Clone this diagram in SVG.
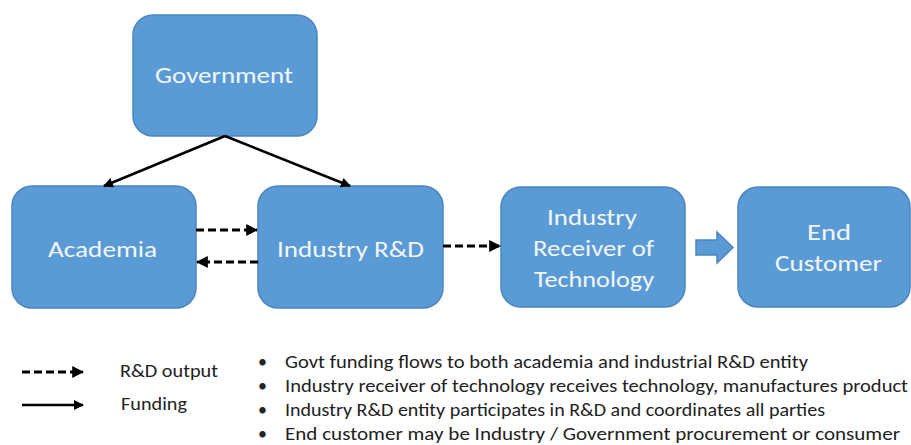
<svg xmlns="http://www.w3.org/2000/svg" width="911" height="445" viewBox="0 0 911 445">
<style>
.box{fill:#5b9bd5;stroke:#4a86c0;stroke-width:1.5}
.lbl{font-family:Carlito,Lato,"Open Sans",sans-serif;font-size:23px;fill:#f2f6fb;text-anchor:middle}
.solid{stroke:#000;stroke-width:2.5;fill:none}
.dash{stroke:#000;stroke-width:3;fill:none;stroke-dasharray:8 4}
.leg{font-family:Carlito,Lato,"Open Sans",sans-serif;font-size:18px;fill:#222}
</style>
<defs>
<marker id="ah" viewBox="0 0 10 10" refX="9" refY="5" markerWidth="4" markerHeight="4" orient="auto" markerUnits="strokeWidth">
<path d="M0,0 L10,5 L0,10 z" fill="#000"/>
</marker>
</defs>
<rect width="911" height="445" fill="#fff"/>
<g id="government"><rect class="box" x="133" y="15" width="184" height="121" rx="20"/><text class="lbl" x="224" y="83" textLength="138" lengthAdjust="spacingAndGlyphs">Government</text></g>
<g id="academia"><rect class="box" x="12" y="186" width="184" height="122" rx="20"/><text class="lbl" x="102.5" y="257" textLength="109" lengthAdjust="spacingAndGlyphs">Academia</text></g>
<g id="industry-rd"><rect class="box" x="258" y="186" width="185" height="122" rx="20"/><text class="lbl" x="350.5" y="257" textLength="147" lengthAdjust="spacingAndGlyphs">Industry R&amp;D</text></g>
<g id="industry-receiver"><rect class="box" x="501" y="187" width="184" height="120" rx="20"/><text class="lbl" x="592" y="225" textLength="90" lengthAdjust="spacingAndGlyphs">Industry</text><text class="lbl" x="593.5" y="256" textLength="121" lengthAdjust="spacingAndGlyphs">Receiver of</text><text class="lbl" x="594" y="287" textLength="120" lengthAdjust="spacingAndGlyphs">Technology</text></g>
<g id="end-customer"><rect class="box" x="738" y="187" width="172" height="120" rx="20"/><text class="lbl" x="829" y="240" textLength="44" lengthAdjust="spacingAndGlyphs">End</text><text class="lbl" x="828.5" y="271" textLength="107" lengthAdjust="spacingAndGlyphs">Customer</text></g>
<g id="connectors">
<line class="solid" x1="225" y1="136" x2="104" y2="186" marker-end="url(#ah)"/>
<line class="solid" x1="225" y1="136" x2="350" y2="186" marker-end="url(#ah)"/>
<line class="dash" x1="196" y1="230" x2="257" y2="230" marker-end="url(#ah)"/>
<line class="dash" x1="258" y1="262" x2="197" y2="262" marker-end="url(#ah)"/>
<line class="dash" x1="443" y1="246" x2="500" y2="246" marker-end="url(#ah)"/>
<path class="box" d="M696,240 L717,240 L717,232 L733,247.5 L717,263 L717,255 L696,255 z"/>
</g>
<g id="legend">
<line class="dash" x1="22" y1="372" x2="83" y2="372" marker-end="url(#ah)"/>
<line class="solid" x1="22" y1="405" x2="83" y2="405" marker-end="url(#ah)"/>
<text class="leg" x="120" y="377" textLength="98" lengthAdjust="spacingAndGlyphs">R&amp;D output</text>
<text class="leg" x="121" y="410" textLength="66" lengthAdjust="spacingAndGlyphs">Funding</text>
</g>
<g id="notes" class="leg">
<text x="258" y="368">•</text><text x="285" y="368" textLength="523" lengthAdjust="spacingAndGlyphs">Govt funding flows to both academia and industrial R&amp;D entity</text>
<text x="258" y="392">•</text><text x="285" y="392" textLength="623" lengthAdjust="spacingAndGlyphs">Industry receiver of technology receives technology, manufactures product</text>
<text x="258" y="416">•</text><text x="285" y="416" textLength="540" lengthAdjust="spacingAndGlyphs">Industry R&amp;D entity participates in R&amp;D and coordinates all parties</text>
<text x="258" y="440">•</text><text x="285" y="440" textLength="615" lengthAdjust="spacingAndGlyphs">End customer may be Industry / Government procurement or consumer</text>
</g>
</svg>
